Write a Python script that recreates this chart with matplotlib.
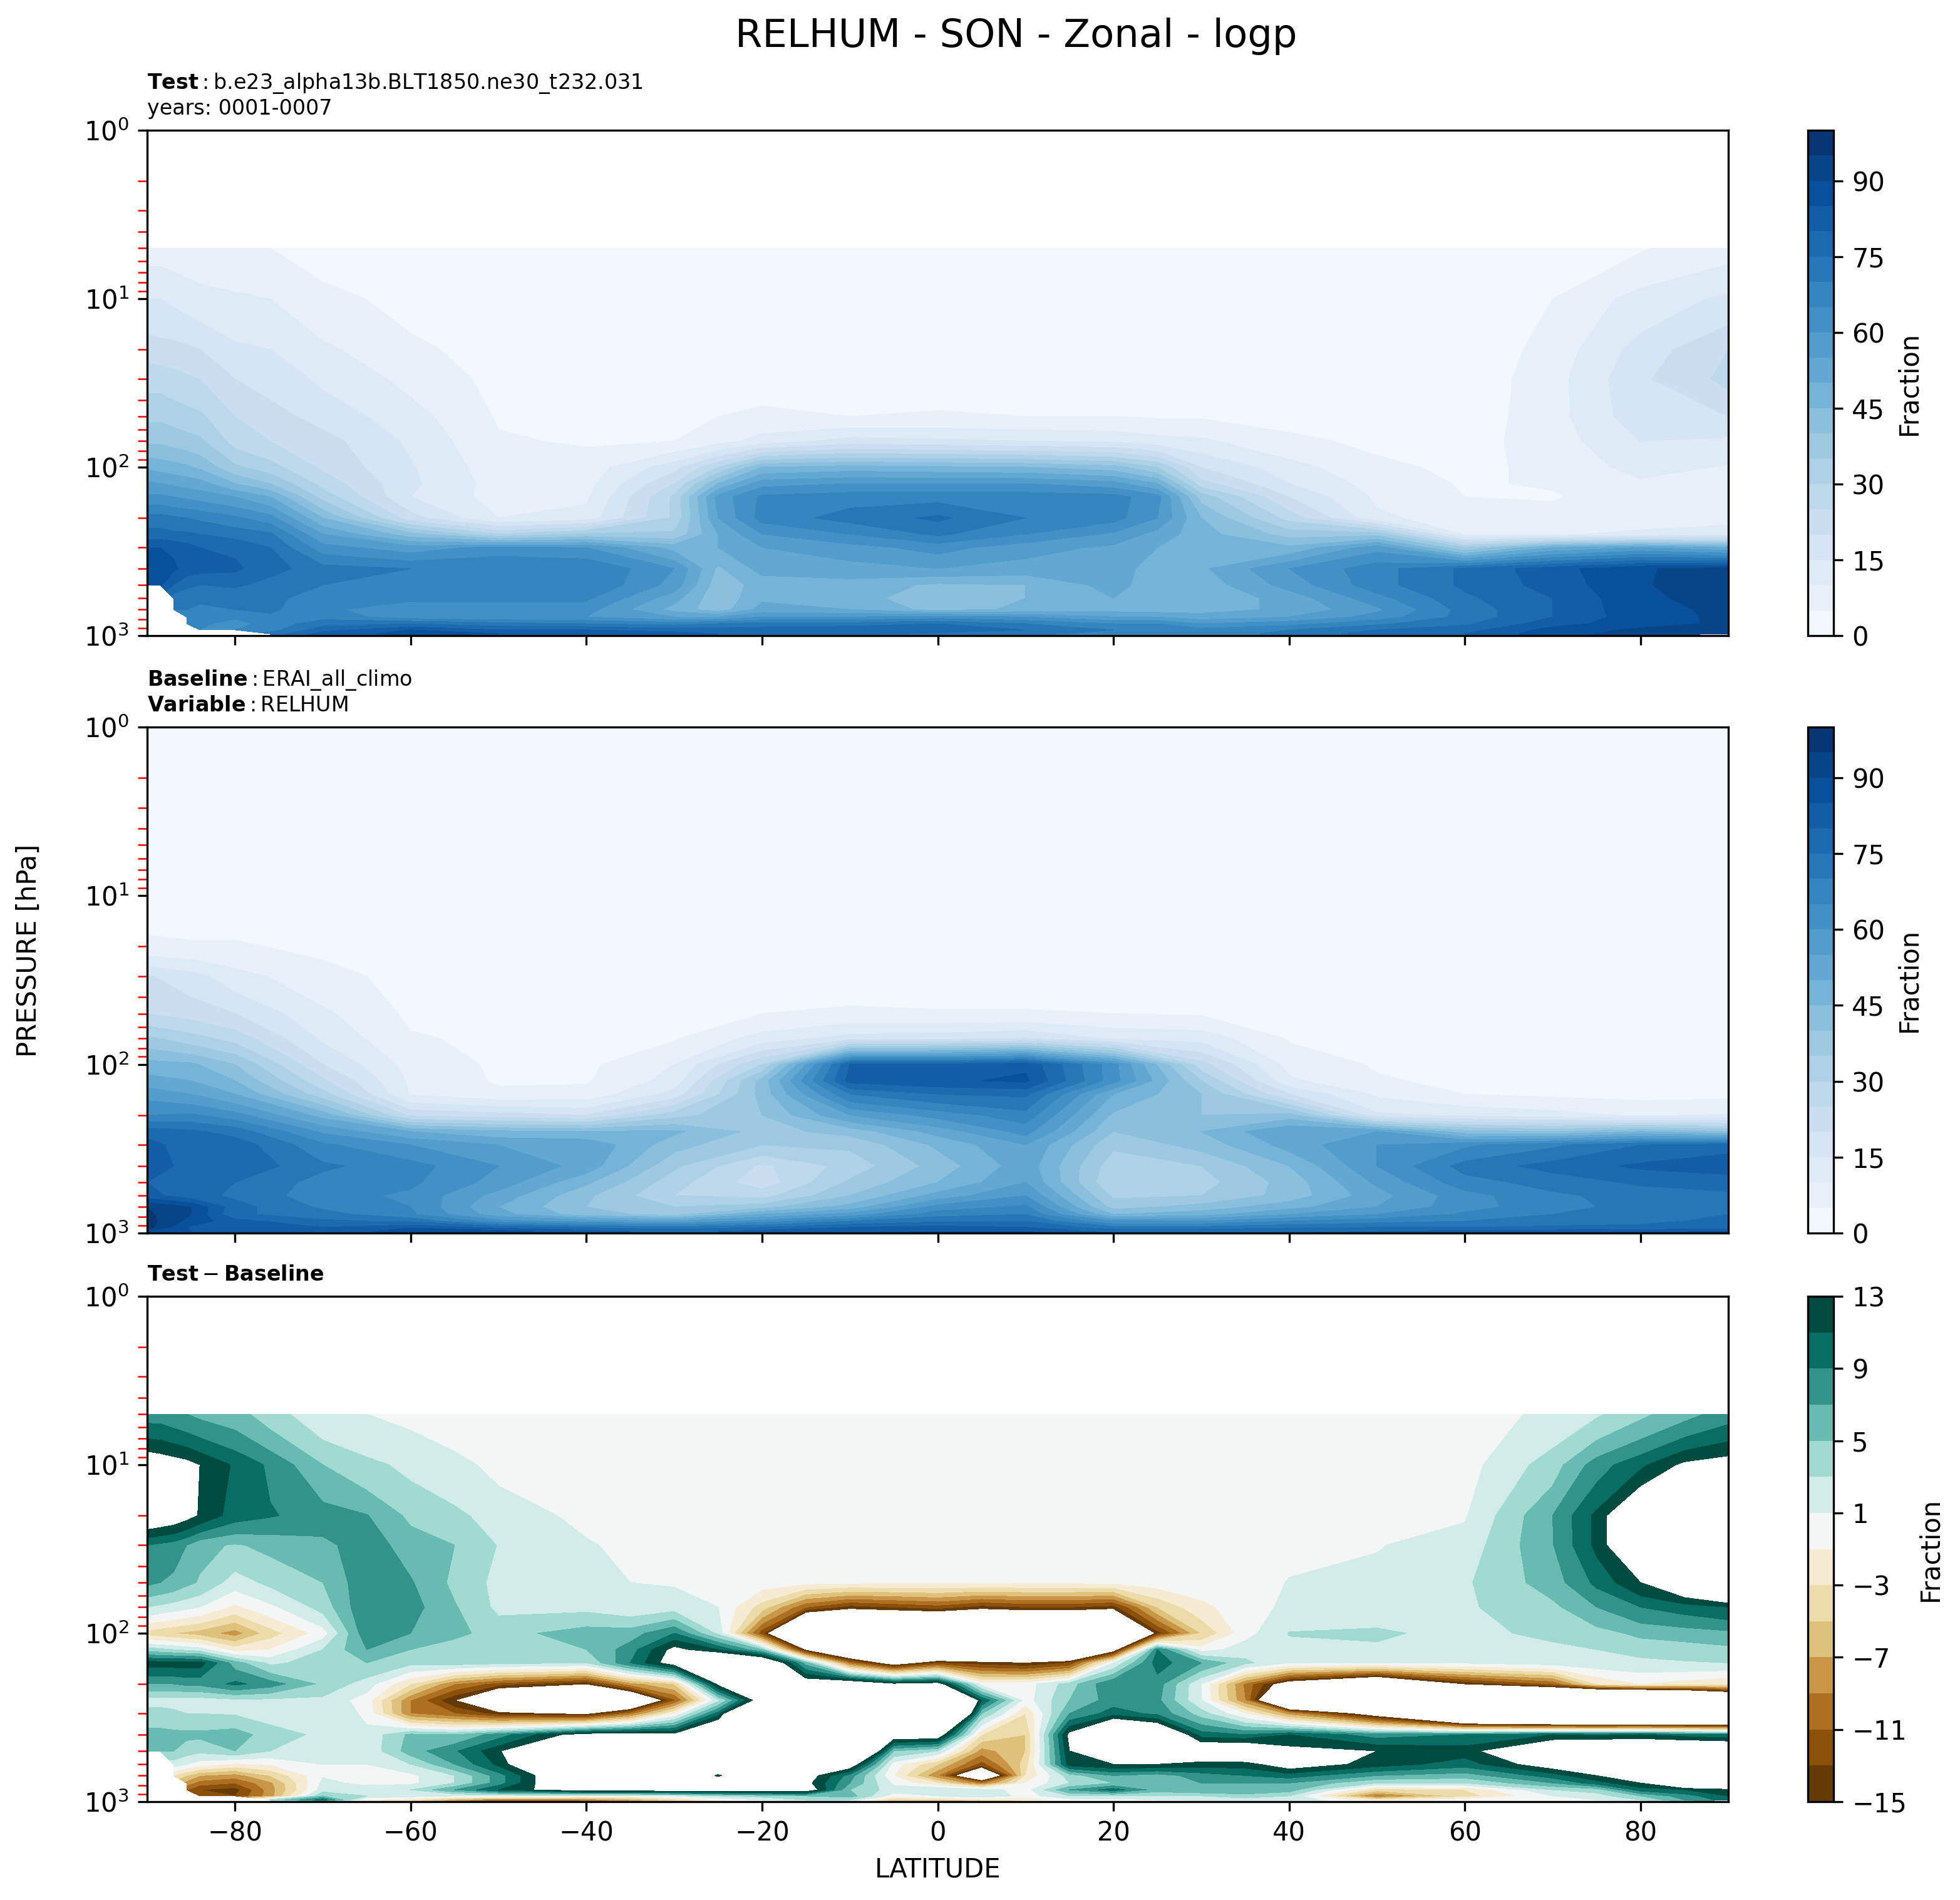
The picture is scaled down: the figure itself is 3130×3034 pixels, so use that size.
import matplotlib
matplotlib.use("Agg")
import matplotlib.pyplot as plt
import matplotlib.colors as mcolors
import numpy as np

n = np.nan

plev = [5, 10, 20, 30, 50, 70, 100, 125, 150, 200, 250, 300, 400, 500, 600, 700, 775, 850, 925, 975, 1000]

# test case, one list per latitude, top of atmosphere first
test_lat = [-90, -88.5, -87, -85.5, -84, -80, -76, -70, -60, -50, -40, -30, -25, -20, -10, 0, 10, 20, 25, 30, 40, 50, 60, 70, 80, 90]
test_rh = [
    [8, 15, 23, 28, 34, 39, 49, 56, 61, 72, 77, 85, 87, 86, n, n, n, n, n, n, n],
    [8, 15, 22, 28, 34, 39, 48, 55, 61, 72, 77, 85, 87, 86, n, n, n, n, n, n, n],
    [7.5, 14, 22, 27, 33, 38, 47, 54, 60, 71, 76, 84, 86, 80, 72, 70, n, n, n, n, n],
    [7, 13, 21, 26, 32, 37, 46, 53, 59, 70, 76, 82, 83, 76, 72, 70, 70, 68, n, n, n],
    [6.5, 12, 20, 25, 31, 36, 44, 52, 58, 69, 75, 80, 82, 75, 71, 69, 68, 66, 65, n, n],
    [5.5, 11, 16, 20, 25, 28, 36, 45, 55, 66, 73, 79, 81, 76, 71, 70, 66, 63, 65, n, n],
    [5, 10, 15, 18, 22, 25, 32, 40, 50, 62, 71, 75, 77, 73, 72, 71, 69, 67, 68, 72, 70],
    [3, 6.4, 11, 14, 18, 22, 24, 28, 33, 45, 55, 62, 72, 70, 66, 66, 68, 73, 78, 82, 85],
    [2, 3.5, 6, 8.5, 12, 14, 15.5, 16, 15, 22, 42, 57, 70, 70, 66, 62, 62, 75, 85, 87, 85],
    [2, 2.5, 3, 3.5, 4.5, 5.5, 7, 8, 8, 10, 30, 62, 70, 70, 66, 62, 60, 72, 80, 85, 85],
    [1, 1, 2, 3, 4, 4.5, 7, 8, 9, 12, 36, 60, 70, 70, 66, 62, 60, 70, 80, 85, 85],
    [1, 1, 2, 3, 4, 5, 18, 25, 31, 31, 36, 48, 60, 58, 52, 48, 55, 68, 78, 82, 83],
    [1, 1, 2, 3, 5, 8, 30, 45, 57, 55, 50, 50, 44, 42, 41, 42, 55, 70, 78, 80, 80],
    [1, 1, 2, 3, 6, 12, 45, 58, 66, 67, 60, 55, 52, 47, 49, 52, 60, 72, 78, 78, 76],
    [1, 1, 2, 3, 5, 17, 47, 60, 68, 72, 65, 58, 53, 48, 47, 50, 60, 72, 80, 77, 74],
    [1, 1, 2, 3, 5.5, 16, 46, 60, 68, 76, 71, 62, 55, 44, 42, 43, 62, 75, 78, 74, 72],
    [1, 1, 2, 3, 5, 15, 45, 60, 68, 70, 65, 57, 53, 45, 45, 46, 60, 70, 75, 72, 70],
    [1, 1, 2, 3, 5, 14, 42, 57, 67, 67, 59, 54, 52, 52, 50, 48, 55, 65, 70, 68, 62],
    [1, 1, 2, 3, 4.5, 12, 35, 50, 62, 60, 53, 50, 48, 47, 47, 47, 55, 65, 70, 67, 62],
    [1, 1, 2, 3, 4.5, 11, 20, 27, 38, 45, 47, 47, 49, 47, 46, 48, 52, 60, 67, 66, 64],
    [1, 1, 1, 2, 3.5, 6, 12, 15, 20, 28, 38, 46, 60, 57, 52, 51, 55, 63, 70, 72, 70],
    [1, 1, 1, 2, 3, 4, 6, 8, 9, 11, 38, 58, 68, 68, 63, 59, 62, 69, 75, 77, 76],
    [1, 1, 1, 1.5, 2, 3, 4, 4.5, 5, 7.5, 9.5, 35, 76, 76, 74, 72, 72, 74, 78, 80, 80],
    [2.5, 5, 7, 8, 8, 7.5, 6, 5.5, 4.5, 7, 9.5, 50, 83, 82, 80, 80, 80, 83, 87, 88, 88],
    [4.5, 12, 17, 19, 18, 15, 12, 9, 8, 7.5, 11, 55, 89.5, 89.5, 89, 88.5, 88, 88, 91, 92, 93],
    [8, 16, 25, 26.5, 20, 14, 9.5, 8, 8, 8, 13, 50, 92, 93, 92, 91, 91, 91, 93, 95, n],
]

# baseline has data up to 1 hPa
base_plev = [1] + plev
base_lat = [-90, -85, -80, -70, -60, -50, -40, -30, -20, -10, 0, 10, 20, 30, 40, 50, 60, 70, 80, 90]
base_rh = [
    [2, 2, 2.5, 6, 20.5, 25, 36, 47, 52, 58, 65, 78, 82, 83, 80, 82, 95, 96, 97, 97, 90, 85],
    [1, 2, 2.5, 5.5, 17, 23, 32, 46, 50, 55, 66, 76, 77, 78, 76, 77, 90, 90, 88, 84, 85, 85],
    [1, 2, 2.5, 5.5, 12, 20, 28, 40, 45, 50, 62, 73, 78, 79, 75, 74, 77, 76, 82, 85, 84, 82],
    [1, 2, 3, 4, 6.5, 11, 14, 20, 26, 32, 48, 59, 66, 71, 68, 67, 69, 72, 76, 80, 80, 79],
    [1, 1.5, 2, 3, 3.5, 4, 5.5, 8, 9, 9.5, 24, 50, 60, 67, 66, 64, 65, 66, 74, 84, 89, 88],
    [1, 1, 1.5, 2, 3, 3.5, 4, 4.2, 4.4, 6, 22, 46, 55, 60, 58, 53, 50, 52, 62, 78, 87, 84],
    [1, 1, 1.5, 2, 2.5, 3, 3.5, 4, 4.5, 6.5, 20, 45, 54, 53, 46, 41, 40, 42, 58, 74, 82, 82],
    [1, 1, 1, 1.5, 2, 3, 4.5, 10, 12, 17, 33, 46, 42, 36, 32, 30, 35, 38, 55, 72, 78, 78],
    [1, 1, 1, 1.5, 2, 5, 12, 30, 42, 42, 40, 38, 35, 24, 22, 28, 38, 50, 62, 75, 82, 82],
    [1, 1, 1, 1.5, 2, 6, 17, 80, 82, 70, 55, 42, 36, 32, 36, 40, 47, 57, 70, 80, 85, 85],
    [1, 1, 1, 1.5, 2, 5.5, 18, 80, 84, 75, 62, 52, 46, 42, 45, 52, 62, 68, 74, 82, 85, 87],
    [1, 1, 1, 1.5, 2, 5.5, 20, 84, 86, 76, 68, 62, 55, 53, 55, 60, 66, 70, 75, 80, 85, 87],
    [1, 1, 1, 1.5, 2, 5, 14, 62, 62, 50, 44, 40, 36, 32, 30, 34, 38, 45, 60, 72, 78, 80],
    [1, 1, 1, 1.5, 2, 4.5, 13, 27, 35, 40, 40, 45, 42, 35, 33, 35, 42, 48, 60, 72, 78, 78],
    [1, 1, 1, 1.5, 2, 3.5, 4.5, 8, 11, 20, 42, 55, 52, 45, 42, 42, 48, 55, 65, 74, 80, 80],
    [1, 1, 1, 1, 1.5, 2, 3, 4.5, 5.5, 9, 16, 55, 60, 60, 56, 53, 55, 60, 68, 75, 80, 82],
    [1, 1, 1, 1, 1, 1.5, 2, 3, 4, 5, 14, 42, 64, 72, 68, 63, 63, 66, 70, 75, 82, 86],
    [1, 1, 1, 1, 1, 1.5, 2, 2.5, 3, 4, 12, 40, 69, 77, 72, 69, 68, 70, 72, 76, 82, 85],
    [1, 1, 1, 1, 1, 1.5, 2, 2.5, 3, 3.5, 9, 45, 75, 81, 76, 72, 72, 73, 74, 76, 83, 87],
    [1, 1, 1, 1, 1, 1.5, 2, 2.5, 3, 3.5, 10.5, 40, 78, 83, 77, 74, 74, 75, 76, 78, 84, 90],
]

# difference panel, read on its own finer grid
diff_lat = [-90, -88.5, -87, -85.5, -84, -80, -76, -70, -65, -60, -55, -50, -40, -35, -30, -25, -20, -15, -10, -5,
            0, 5, 10, 15, 20, 25, 30, 35, 40, 50, 60, 70, 75, 80, 85, 90]
diff_rh = [
    [8, 15.5, 16, 9, 7.5, 3, -4, 4, 12, 7, 2, 4, 5.5, 5, n, n, n, n, n, n, n],
    [8, 15, 15.5, 8.5, 7, 2.5, -4.5, 3.5, 12, 7, 2, 4, 5.5, 5, n, n, n, n, n, n, n],
    [7.5, 14.5, 15, 8, 6.5, 2, -5, 3, 12, 7, 2, 3.5, 5.5, 5, 2, -3, n, n, n, n, n],
    [7, 14, 14, 7, 5.5, 1.5, -5.5, 2.5, 12, 7.5, 2, 3, 5.5, 4, 1, -5, -8, -11, n, n, n],
    [6.5, 13, 12.8, 5.5, 4.8, 1, -6, 2, 12, 7.5, 2, 3, 5.5, 3.5, 0, -7, -10, -13, -11, n, n],
    [5.8, 10.7, 10, 4.8, 2, -1.5, -8, -2, 6, 9.5, 2.5, 2.8, 6, 5, -1.5, -8, -11, -14, -13, n, n],
    [3.9, 8.6, 9.2, 5.5, 3.5, 0.5, -4, -1, 2.5, 8, 2.5, 2, 4, 3, -1, -5, -7.5, -8, -8, 3, 5],
    [1.5, 5, 8, 6.5, 5, 3.8, 0, 3, 4, 4.5, 2.5, 3, 2.5, 1.5, 1, 0.8, 1.5, 2, 5, 10, 5],
    [1, 3.5, 7.1, 8, 8.5, 8.8, 8.5, 7, 5, 2, 0, 0.5, 1.5, 1.5, 1, 0.3, 0.5, 2, 3, -1, -5],
    [0.5, 2.5, 4.5, 6.1, 7.2, 7.8, 7, 5, 3.5, -3, -9, -9, 5.5, 6, 3, 0.5, 0.5, 3, 2, -3, -6],
    [0, 1.5, 3.5, 5, 4.5, 5.2, 5.5, 4, 4, -9, -15, -11, 5, 8.7, 7, 3, 3, 7, 1, -7, -10],
    [0, 0.5, 2, 2.9, 2.4, 2.5, 4.2, 3.5, 3.5, -12, -25, -14, 8, 12.5, 11.5, 8, 8, 11, 1, -10, -13],
    [0, 0, 0.5, 1.2, 1.8, 2.4, 6, 5, 3, -15, -30, -16, 15, 30, 25, 20, 20, 16, 0, -9, -12],
    [0, 0, 0, 0.5, 1, 1.5, 6, 8, 9, -8, -25, -10, 15, 25, 25, 22, 20, 16, 0, -7, -10],
    [0, 0, 0, 0, 0.8, 2, 9, 14, 15, -5, -11.5, -1, 14, 25, 25, 25, 22, 16, 1, -4, -6],
    [0, 0, 0, 0, 0.5, 1, 2.5, 11, 22, 14, 2.3, 10, 22, 25, 22, 12, 20, 16, 3, -1, -2],
    [0, 0, 0, 0, 0, -4, -12.5, 5, 20, 30, 16, 35, 25, 25, 25, 25, 20, 16, 4, 1, 0],
    [0, 0, 0, 0, -0.5, -11, -35, -16, 6, 16, 25, 30, 25, 25, 25, 15, 14, 16, 5, 3, 1],
    [0, 0, 0, 0, -0.7, -14, -35, -25, -10, 18, 40, 40, 20, 30, 16, 8, 7, 5, 6, 3, 1],
    [0, 0, 0, 0, -0.8, -13, -35, -25, -18, 14, 40, 40, 16, 5, 0, -1, 0.5, 2, 0, -5, -8],
    [0, 0, 0, 0, -0.8, -12, -35, -28, -13, 15, 40, 40, 16, 3, -5, -9, -3, 3, 1, -4, -9],
    [0, 0, 0, 0, -0.8, -14, -35, -30, -14, 0, 11, 5, -3, -8, -12, -25, -10, 2, 3, -3, -8],
    [0, 0, 0, 0, -0.8, -13, -35, -28, -15, 0, 0, -3, -5, -5, -4, -3, -1, 0, 0, -3, 1],
    [0, 0, 0, 0, -0.8, -13, -35, -28, -13, 4, 5, 7, 14, 13, 12, 4, 3, 7, 3, 0, 1],
    [0, 0, 0, 0, -0.6, -14, -35, -18, 1, 9, 8, 10, 25, 25, 13, 7, 5, 10, 3, 0, 1],
    [0, 0, 0, 0, 0, -5, -14, 9, 10, 8, 7.5, 8.5, 20, 25, 13, 6, 6, 6, 3, 1, 0],
    [0, 0, 0, 0, 0, -1.5, -5, 0, 7, 1, 1, 4, 10, 17, 12, 8, 7, 7, 3, 2, 0],
    [0, 0, 0, 0, 0, 0, 0.2, 2, 3.5, -9.5, -9, -1, 9, 18, 12, 9, 7, 7, 4, 2, 0],
    [0, 0, 0, 0.5, 1.1, 1.5, 3.1, 2.5, 1, -18, -30, -8, 11, 14, 15, 10, 7, 6, 3, 3, 2],
    [0, 0, 0.5, 0.9, 1.5, 2, 3.3, 2.7, 1.3, -25, -30, -18, 8, 13, 12, 7, 3, -4, -10, -3, 0],
    [0, 0.2, 0.8, 1.8, 2.7, 2.7, 2.4, 2.4, 1.2, -15, -30, -35, 9, 12, 10, 6, 3, -3, -4, 0, 0],
    [1.5, 4, 7, 6.9, 6, 4.5, 3.5, 2.5, 2, -11, -35, -40, 11, 18, 15, 10, 7, 3, 1, 0, 0],
    [2.7, 8, 11.5, 11.5, 9.5, 7, 4.2, 3, 2.3, -3, -45, -40, 10.5, 20, 20, 13, 10, 4, 2, 1, 0],
    [4.5, 10.5, 18, 18, 13, 9, 5.5, 3.7, 2.5, -1, -45, -40, 11, 20, 20, 20, 13, 10, 5, 3, 1],
    [6.2, 13.6, 25, 25, 17, 10, 6, 4, 2.8, -2, -40, -40, 10, 20, 25, 25, 20, 11, 8, 7, 5],
    [8, 14.5, 30, 30, 22, 11, 6.5, 4.5, 3, -3, -30, -40, 9, 20, 25, 25, 25, 12, 11, 10, n],
]

rh_levels = np.arange(0, 101, 5)
rh_ticks = np.arange(0, 91, 15)
diff_levels = np.arange(-15, 14, 2)
diff_ticks = diff_levels[::2]

W, H = 3130, 3034
fig = plt.figure(figsize=(W / 300, H / 300), dpi=300)


def make_axes(top, bottom):
    ax = fig.add_axes([235 / W, 1 - bottom / H, (2760 - 235) / W, (bottom - top) / H])
    cax = fig.add_axes([2887 / W, 1 - bottom / H, 41 / W, (bottom - top) / H])
    return ax, cax


def draw(ax, cax, lat, lev, data, levels, ticks, cmap, norm=None):
    z = np.array(data, dtype=float).T
    cf = ax.contourf(lat, lev, z, levels=levels, cmap=cmap, norm=norm)
    ax.set_yscale("log")
    ax.set_ylim(1000, 1)
    ax.set_xlim(-90, 90)
    ax.set_xticks(np.arange(-80, 81, 20))
    ax.tick_params(axis="y", which="minor", color="red", length=3.5, width=0.6)
    ax.tick_params(labelsize=10)
    cb = fig.colorbar(cf, cax=cax, ticks=ticks)
    cb.set_label("Fraction", fontsize=10)
    cb.ax.tick_params(labelsize=10)
    return cf


ax1, cax1 = make_axes(208, 1015)
ax2, cax2 = make_axes(1161, 1969)
ax3, cax3 = make_axes(2070, 2877)

draw(ax1, cax1, test_lat, plev, test_rh, rh_levels, rh_ticks, "Blues")
draw(ax2, cax2, base_lat, base_plev, base_rh, rh_levels, rh_ticks, "Blues")
draw(ax3, cax3, diff_lat, plev, diff_rh, diff_levels, diff_ticks, "BrBG",
     norm=mcolors.TwoSlopeNorm(vmin=-15, vcenter=0, vmax=13))

ax1.set_xticklabels([])
ax2.set_xticklabels([])
ax3.set_xlabel("LATITUDE", fontsize=10)

ax1.set_title("$\\mathbf{Test}:$b.e23_alpha13b.BLT1850.ne30_t232.031\nyears: 0001-0007", loc="left", fontsize=8)
ax2.set_title("$\\mathbf{Baseline}:$ERAI_all_climo\n$\\mathbf{Variable}:$RELHUM", loc="left", fontsize=8)
ax3.set_title("$\\mathbf{Test} - \\mathbf{Baseline}$", loc="left", fontsize=8)

fig.text(1623 / W, 1 - 58 / H, "RELHUM - SON - Zonal - logp", ha="center", va="center", fontsize=15)
fig.text(46 / W, 1 - 1518 / H, "PRESSURE [hPa]", rotation=90, ha="center", va="center", fontsize=10)

fig.savefig("out.png", dpi=300)
